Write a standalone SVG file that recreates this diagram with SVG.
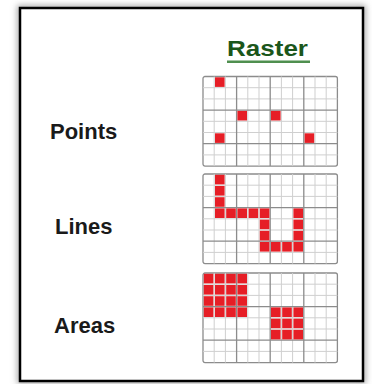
<svg xmlns="http://www.w3.org/2000/svg" xmlns:xlink="http://www.w3.org/1999/xlink" width="372" height="384" viewBox="0 0 372 384">
<style>
.lbl{font-family:"Liberation Sans",Arial,sans-serif;font-weight:bold;font-size:22px;fill:#1a1a1a}
.title{font-family:"Liberation Sans",Arial,sans-serif;font-weight:bold;font-size:22px;fill:#1b561b}
.minor{stroke:#cfcfcf;stroke-width:1;fill:none}
.major{stroke:#8c8c8c;stroke-width:1.3;fill:none}
.edge{stroke:#8c8c8c;stroke-width:1.3;fill:#fff}
</style>
<defs>
<filter id="sh" x="-10%" y="-10%" width="120%" height="120%"><feGaussianBlur stdDeviation="3"/></filter>
<rect id="c" x="-0.2" y="-0.2" width="9.6" height="9.6" fill="#e61e26"/>
<g id="grid">
<rect class="edge" x="0" y="0" width="134.4" height="89.6" rx="2"/>
<path class="minor" d="M11.2 0V89.6M22.4 0V89.6M44.8 0V89.6M56 0V89.6M78.4 0V89.6M89.6 0V89.6M112 0V89.6M123.2 0V89.6M0 11.2H134.4M0 22.4H134.4M0 44.8H134.4M0 56H134.4M0 78.4H134.4"/>
<path class="major" d="M33.6 0V89.6M67.2 0V89.6M100.8 0V89.6M0 33.6H134.4M0 67.2H134.4"/>
</g>
</defs>
<rect width="372" height="384" fill="#fff"/>
<rect x="20" y="8" width="343" height="373" fill="none" stroke="#999" stroke-width="5" filter="url(#sh)"/>
<rect x="20" y="8" width="343" height="373" fill="#fff" stroke="#000" stroke-width="2.5"/>
<g id="title">
<text class="title" x="227" y="55.5" textLength="81" lengthAdjust="spacingAndGlyphs">Raster</text>
<rect x="227" y="60.5" width="83" height="2.5" fill="#4f8f4f"/>
</g>
<g id="points">
<text class="lbl" x="50" y="139">Points</text>
<g transform="translate(203,76.5)">
<use xlink:href="#grid"/>
<use xlink:href="#c" x="12.2" y="1"/>
<use xlink:href="#c" x="34.6" y="34.6"/>
<use xlink:href="#c" x="68.2" y="34.6"/>
<use xlink:href="#c" x="12.2" y="57"/>
<use xlink:href="#c" x="101.8" y="57"/>
</g>
</g>
<g id="lines">
<text class="lbl" x="55" y="234">Lines</text>
<g transform="translate(203,174)">
<use xlink:href="#grid"/>
<use xlink:href="#c" x="12.2" y="1"/>
<use xlink:href="#c" x="12.2" y="12.2"/>
<use xlink:href="#c" x="12.2" y="23.4"/>
<use xlink:href="#c" x="12.2" y="34.6"/>
<use xlink:href="#c" x="23.4" y="34.6"/>
<use xlink:href="#c" x="34.6" y="34.6"/>
<use xlink:href="#c" x="45.8" y="34.6"/>
<use xlink:href="#c" x="57" y="34.6"/>
<use xlink:href="#c" x="57" y="45.8"/>
<use xlink:href="#c" x="57" y="57"/>
<use xlink:href="#c" x="57" y="68.2"/>
<use xlink:href="#c" x="68.2" y="68.2"/>
<use xlink:href="#c" x="79.4" y="68.2"/>
<use xlink:href="#c" x="90.6" y="68.2"/>
<use xlink:href="#c" x="90.6" y="57"/>
<use xlink:href="#c" x="90.6" y="45.8"/>
<use xlink:href="#c" x="90.6" y="34.6"/>
</g>
</g>
<g id="areas">
<text class="lbl" x="54" y="333">Areas</text>
<g transform="translate(203,273)">
<use xlink:href="#grid"/>
<use xlink:href="#c" x="1" y="1"/><use xlink:href="#c" x="12.2" y="1"/><use xlink:href="#c" x="23.4" y="1"/><use xlink:href="#c" x="34.6" y="1"/>
<use xlink:href="#c" x="1" y="12.2"/><use xlink:href="#c" x="12.2" y="12.2"/><use xlink:href="#c" x="23.4" y="12.2"/><use xlink:href="#c" x="34.6" y="12.2"/>
<use xlink:href="#c" x="1" y="23.4"/><use xlink:href="#c" x="12.2" y="23.4"/><use xlink:href="#c" x="23.4" y="23.4"/><use xlink:href="#c" x="34.6" y="23.4"/>
<use xlink:href="#c" x="1" y="34.6"/><use xlink:href="#c" x="12.2" y="34.6"/><use xlink:href="#c" x="23.4" y="34.6"/><use xlink:href="#c" x="34.6" y="34.6"/>
<use xlink:href="#c" x="68.2" y="34.6"/><use xlink:href="#c" x="79.4" y="34.6"/><use xlink:href="#c" x="90.6" y="34.6"/>
<use xlink:href="#c" x="68.2" y="45.8"/><use xlink:href="#c" x="79.4" y="45.8"/><use xlink:href="#c" x="90.6" y="45.8"/>
<use xlink:href="#c" x="68.2" y="57"/><use xlink:href="#c" x="79.4" y="57"/><use xlink:href="#c" x="90.6" y="57"/>
</g>
</g>
</svg>
